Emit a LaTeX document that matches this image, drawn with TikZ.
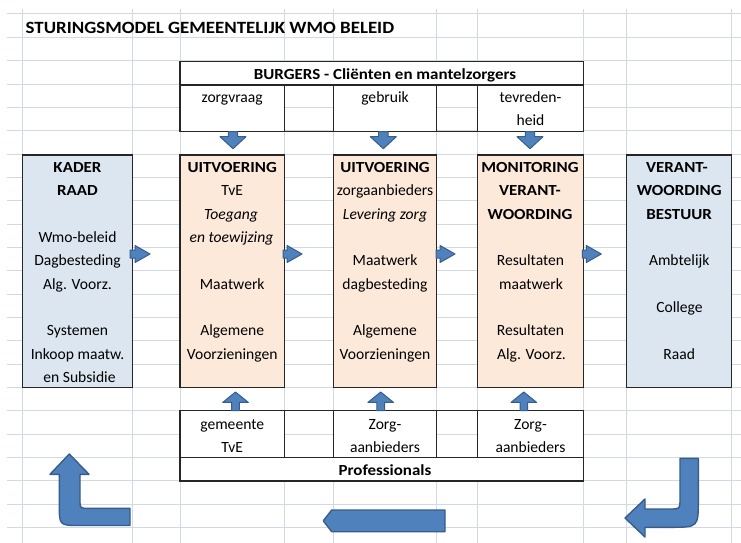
\documentclass[tikz,border=0pt]{standalone}
\usepackage{fontspec}
\setmainfont{Carlito}
\newfontfamily\widefont[FakeStretch=1.1]{Carlito}
\definecolor{gridc}{RGB}{210,217,230}
\definecolor{boxblue}{RGB}{220,230,241}
\definecolor{boxpeach}{RGB}{253,233,217}
\definecolor{arrfill}{RGB}{79,129,189}
\definecolor{arrline}{RGB}{56,93,138}
\tikzset{
  gridline/.style={draw=gridc, line width=1pt},
  cellbox/.style={draw=black!85, line width=1.1pt, inner sep=0pt, outer sep=0pt},
  txt/.style={anchor=base, inner sep=0pt, font=\fontsize{15.6}{17}\selectfont},
  boldtxt/.style={txt, font=\widefont\fontsize{15.4}{17}\selectfont\bfseries},
  itxt/.style={txt, font=\fontsize{15.6}{17}\selectfont\itshape},
  blockarrow/.style={fill=arrfill, draw=arrline, line width=1pt, line join=round},
}
% name, x, row, text, style
\newcommand\celltext[5]{\node[#5] (#1) at (#2,{23.3333*(#3+1)+9}) {#4};}
% x, y, angle, length, head length, head half width, shaft half width
\newcommand\blockarr[7]{\draw[blockarrow, shift={(#1,#2)}, rotate=#3]
  (0,-#7) -- ({#4-#5},-#7) -- ({#4-#5},-#6) -- (#4,0) -- ({#4-#5},#6) -- ({#4-#5},#7) -- (0,#7) -- cycle;}
\begin{document}
\begin{tikzpicture}[x=1pt,y=-1pt]
\useasboundingbox[fill=white] (0,0) rectangle (741,543);
% spreadsheet grid
\foreach \k in {0,...,22} {\draw[gridline] (7,{14+23.3333*\k}) -- (741,{14+23.3333*\k});}
\foreach \x in {22.7,132.3,180,284.3,333.3,436.7,477.7,583.3,626.7,731.7} {\draw[gridline] (\x,9) -- (\x,543);}

% title
\node[anchor=base west, inner sep=0pt, font=\widefont\fontsize{17.2}{20}\selectfont\bfseries] (title) at (25.5,33.3) {STURINGSMODEL GEMEENTELIJK WMO BELEID};

% top block (burgers)
\node[cellbox, fill=white, minimum width=403.3pt, minimum height=23.3pt] (burgers) at (381.65,73.35) {};
\node[cellbox, fill=white, minimum width=104.3pt, minimum height=46.7pt] (zorgvraag) at (232.15,108.35) {};
\node[cellbox, fill=white, minimum width=103.4pt, minimum height=46.7pt] (gebruik) at (385,108.35) {};
\node[cellbox, fill=white, minimum width=105.6pt, minimum height=46.7pt] (tevreden) at (530.5,108.35) {};
\draw[cellbox] (zorgvraag.south east) -- (gebruik.south west);
\draw[cellbox] (gebruik.south east) -- (tevreden.south west);
\celltext{burgerst}{385}{2}{BURGERS - Cliënten en mantelzorgers}{boldtxt}
\celltext{zorgvraagt}{232.2}{3}{zorgvraag}{txt}
\celltext{gebruikt}{385}{3}{gebruik}{txt}
\celltext{tevredent}{530.5}{3}{tevreden-}{txt}
\celltext{heidt}{530.5}{4}{heid}{txt}

% main boxes
\node[cellbox, fill=boxblue, minimum width=109.6pt, minimum height=232.3pt] (kader) at (77.5,271.15) {};
\node[cellbox, fill=boxpeach, minimum width=104.3pt, minimum height=232.3pt] (uitv1) at (232.15,271.15) {};
\node[cellbox, fill=boxpeach, minimum width=103.4pt, minimum height=232.3pt] (uitv2) at (385,271.15) {};
\node[cellbox, fill=boxpeach, minimum width=105.6pt, minimum height=232.3pt] (monit) at (530.5,271.15) {};
\node[cellbox, fill=boxblue, minimum width=105pt, minimum height=232.3pt] (verant) at (679.2,271.15) {};

\celltext{k1}{77.5}{6}{KADER}{boldtxt}
\celltext{k2}{77.5}{7}{RAAD}{boldtxt}
\celltext{k3}{77.5}{9}{Wmo-beleid}{txt}
\celltext{k4}{77.5}{10}{Dagbesteding}{txt}
\celltext{k5}{77.5}{11}{Alg. Voorz.}{txt}
\celltext{k6}{77.5}{13}{Systemen}{txt}
\celltext{k7}{77.5}{14}{Inkoop maatw.}{txt}
\celltext{k8}{79.5}{15}{en Subsidie}{txt}

\celltext{a1}{232.2}{6}{UITVOERING}{boldtxt}
\celltext{a2}{232.2}{7}{TvE}{txt}
\celltext{a3}{231}{8}{Toegang}{itxt}
\celltext{a4}{231.5}{9}{en toewijzing}{itxt}
\celltext{a5}{232.2}{11}{Maatwerk}{txt}
\celltext{a6}{232.2}{13}{Algemene}{txt}
\celltext{a7}{232.2}{14}{Voorzieningen}{txt}

\celltext{b1}{385}{6}{UITVOERING}{boldtxt}
\celltext{b2}{385}{7}{zorgaanbieders}{txt}
\celltext{b3}{385}{8}{Levering zorg}{itxt}
\celltext{b4}{385}{10}{Maatwerk}{txt}
\celltext{b5}{385}{11}{dagbesteding}{txt}
\celltext{b6}{385}{13}{Algemene}{txt}
\celltext{b7}{385}{14}{Voorzieningen}{txt}

\celltext{c1}{530}{6}{MONITORING}{boldtxt}
\celltext{c2}{530}{7}{VERANT-}{boldtxt}
\celltext{c3}{530}{8}{WOORDING}{boldtxt}
\celltext{c4}{530.5}{10}{Resultaten}{txt}
\celltext{c5}{531}{11}{maatwerk}{txt}
\celltext{c6}{530.5}{13}{Resultaten}{txt}
\celltext{c7}{531.5}{14}{Alg. Voorz.}{txt}

\celltext{d1}{677}{6}{VERANT-}{boldtxt}
\celltext{d2}{679.2}{7}{WOORDING}{boldtxt}
\celltext{d3}{679.2}{8}{BESTUUR}{boldtxt}
\celltext{d4}{679.2}{10}{Ambtelijk}{txt}
\celltext{d5}{679.5}{12}{College}{txt}
\celltext{d6}{679.2}{14}{Raad}{txt}

% bottom block (professionals)
\node[cellbox, fill=white, minimum width=403.3pt, minimum height=23.3pt] (prof) at (381.65,469.35) {};
\node[cellbox, fill=white, minimum width=104.3pt, minimum height=47pt] (gemeente) at (232.15,434.2) {};
\node[cellbox, fill=white, minimum width=103.4pt, minimum height=47pt] (zorg1) at (385,434.2) {};
\node[cellbox, fill=white, minimum width=105.6pt, minimum height=47pt] (zorg2) at (530.5,434.2) {};
\draw[cellbox] (gemeente.north east) -- (zorg1.north west);
\draw[cellbox] (zorg1.north east) -- (zorg2.north west);
\celltext{g1}{232.2}{17}{gemeente}{txt}
\celltext{g2}{232.2}{18}{TvE}{txt}
\celltext{z1}{385}{17}{Zorg-}{txt}
\celltext{z2}{385}{18}{aanbieders}{txt}
\celltext{z3}{530.5}{17}{Zorg-}{txt}
\celltext{z4}{530.5}{18}{aanbieders}{txt}
\celltext{proft}{385}{19}{Professionals}{boldtxt}

% small block arrows down (from burgers)
\blockarr{233}{131.7}{-90}{17}{12}{13}{4.7}
\blockarr{383.3}{131.7}{-90}{17}{12}{13}{4.7}
\blockarr{530}{131.7}{-90}{17}{12}{13}{4.7}
% small block arrows up (from professionals)
\blockarr{235.5}{410.7}{90}{18.7}{10.4}{12.8}{3.8}
\blockarr{380.7}{410.7}{90}{18.7}{10.4}{12.8}{3.8}
\blockarr{523.8}{410.7}{90}{18.7}{10.4}{12.8}{3.8}
% small block arrows right (between main boxes)
\blockarr{130}{254}{0}{20}{15}{8.5}{4}
\blockarr{283}{254}{0}{19}{15}{8.5}{4}
\blockarr{436}{254}{0}{19}{15}{8.5}{4}
\blockarr{582.3}{254}{0}{19}{15}{8.5}{4}

% big arrows at the bottom
\draw[blockarrow, line width=1.4pt] (69.3,454) -- (89,474.3) -- (80,474.3) -- (80,500)
  .. controls (80,508.3) .. (88.3,508.3) -- (130,508.3) -- (130,525.5) -- (80,525.5)
  .. controls (59.3,525.5) .. (59.3,504.8) -- (59.3,474.3) -- (50,474.3) -- cycle;
\draw[blockarrow, line width=1.4pt] (445,510) -- (331.7,510) -- (323.3,520.8) -- (331.7,531.7) -- (445,531.7) -- cycle;
\draw[blockarrow, line width=1.4pt] (680,458.3) -- (698.3,458.3) -- (698.3,500)
  .. controls (698.3,527.3) .. (670,527.3) -- (645,527.3) -- (645,537) -- (625,518)
  -- (645,499) -- (645,509) -- (670,509) .. controls (680,509) .. (680,499) -- cycle;
\end{tikzpicture}
\end{document}
